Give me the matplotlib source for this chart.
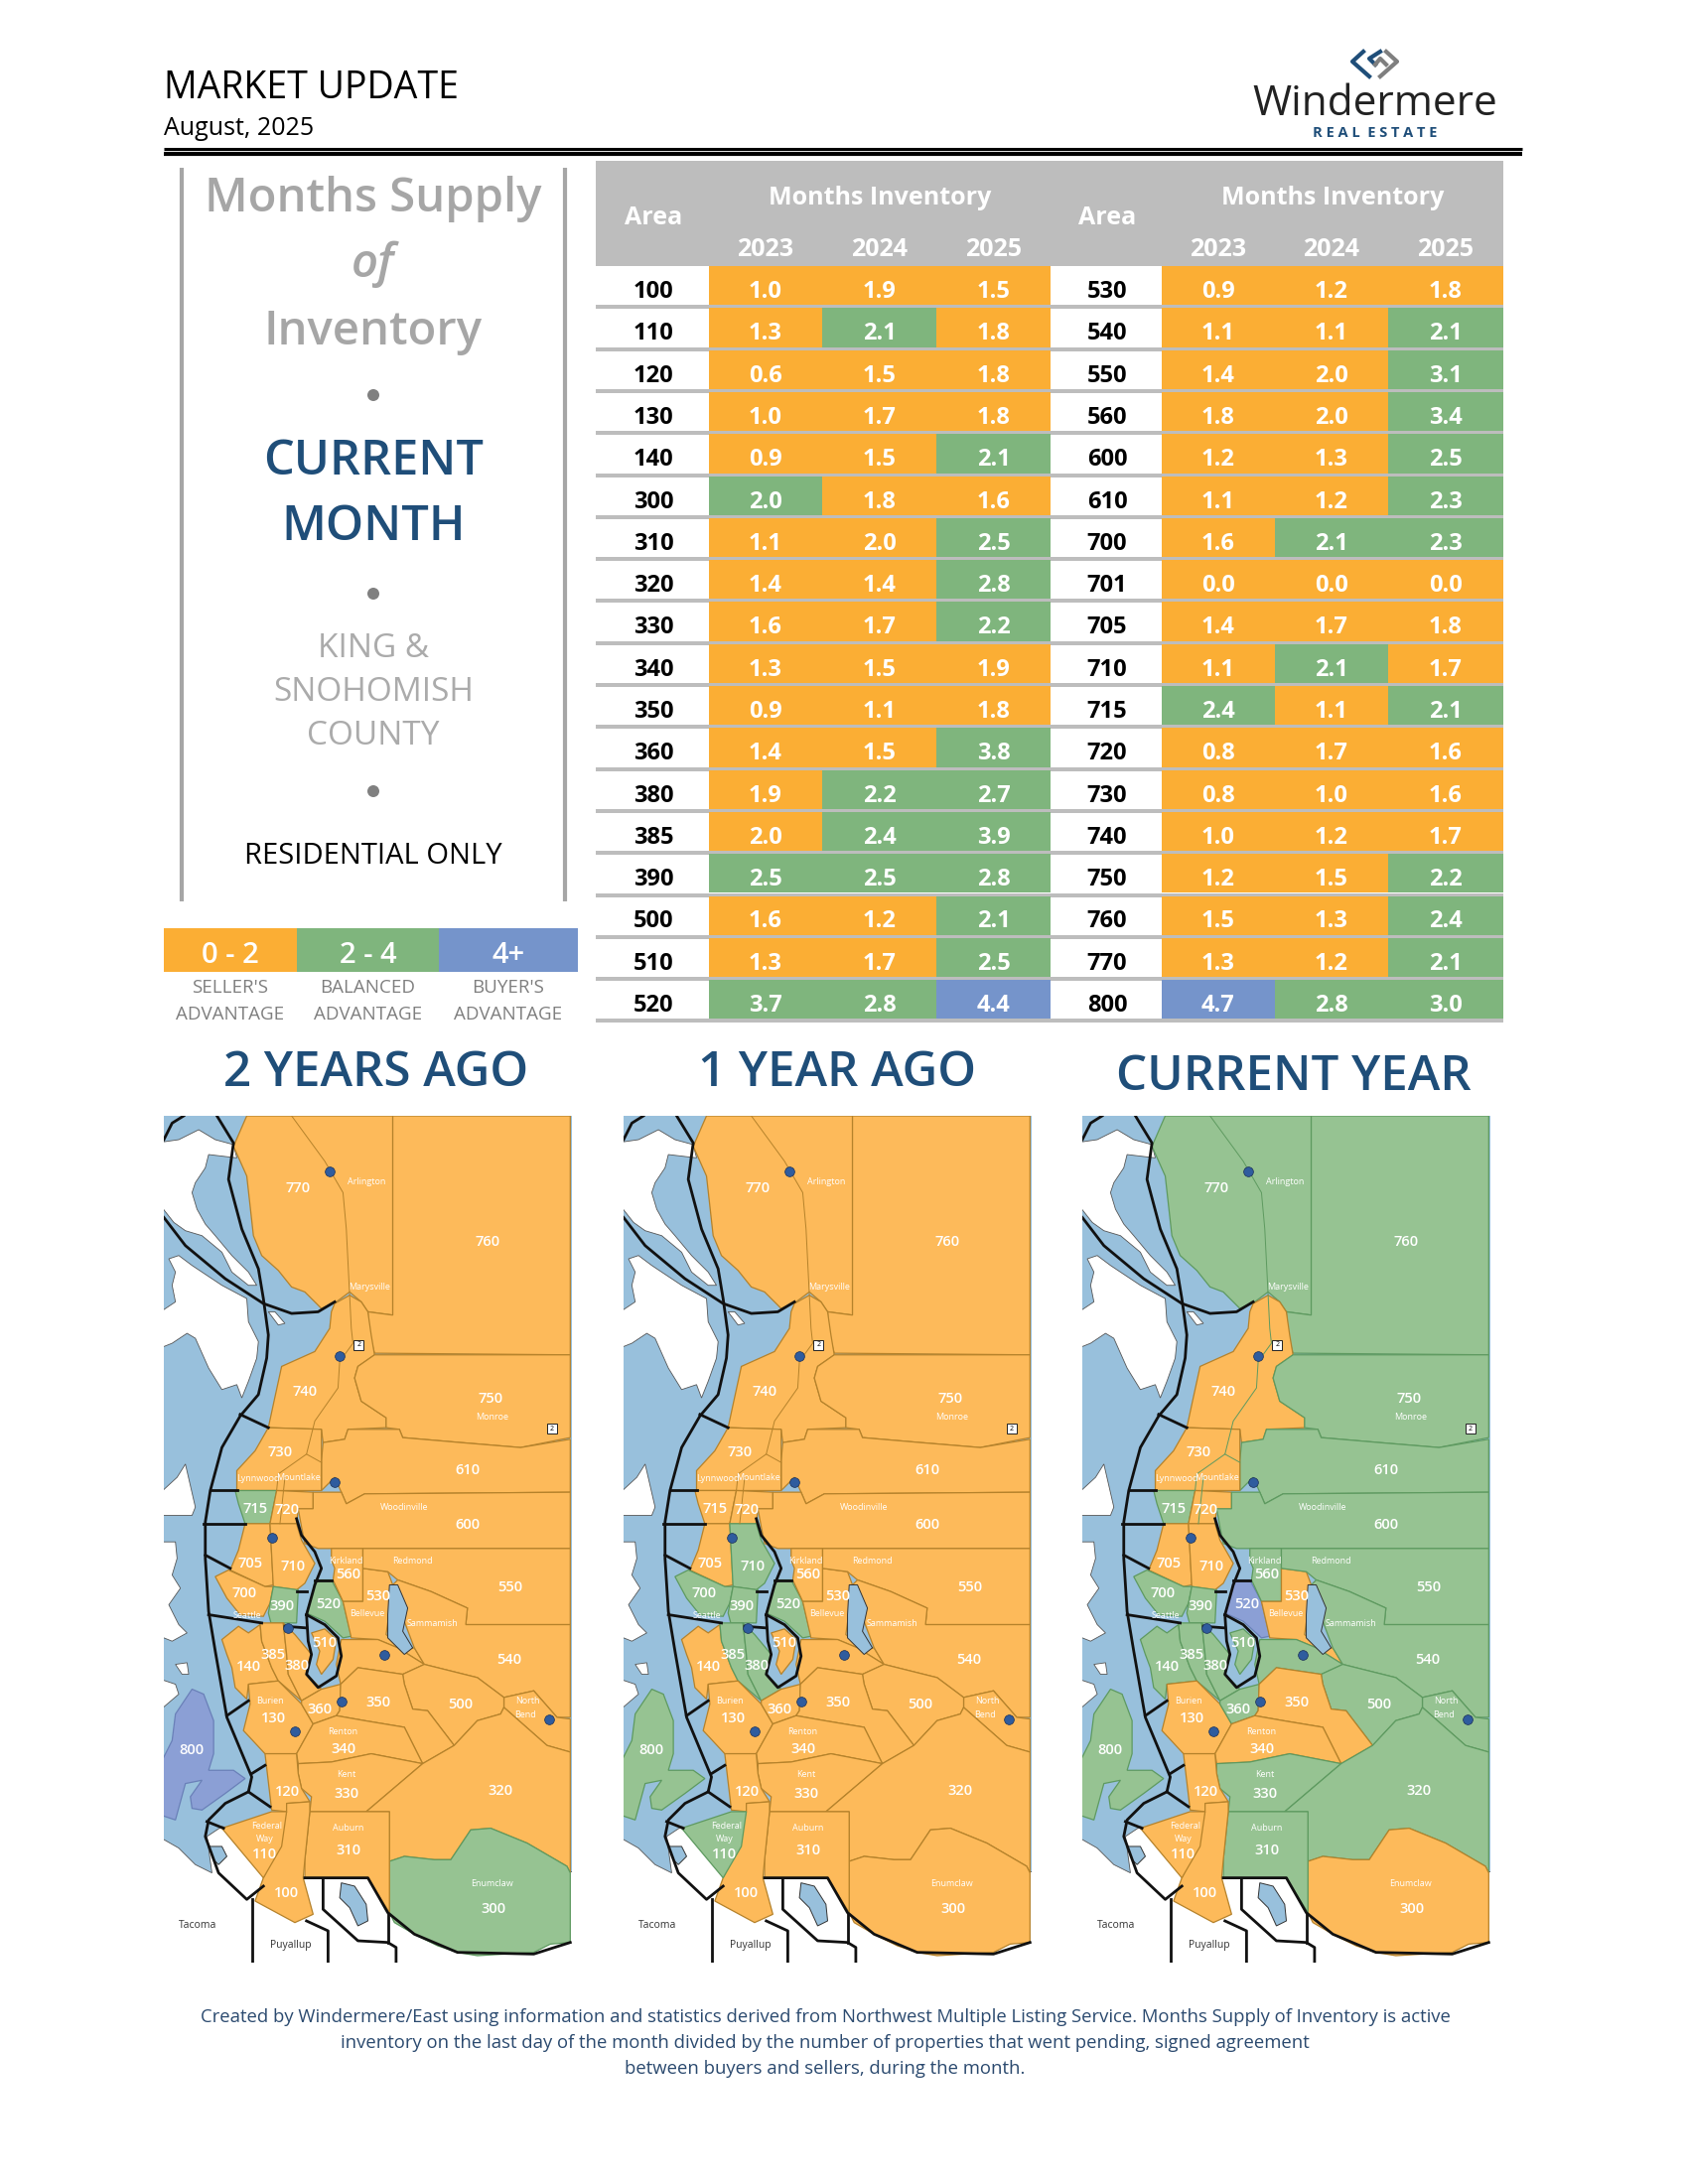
import matplotlib
matplotlib.use("Agg")
import matplotlib.pyplot as plt
from matplotlib.patches import Rectangle, Polygon, Circle

plt.rcParams['font.family'] = ['Open Sans', 'DejaVu Sans']

# table data
years = ['2023', '2024', '2025']
areas_left = [100, 110, 120, 130, 140, 300, 310, 320, 330, 340, 350, 360, 380, 385, 390, 500, 510, 520]
v2023_left = [1.0, 1.3, 0.6, 1.0, 0.9, 2.0, 1.1, 1.4, 1.6, 1.3, 0.9, 1.4, 1.9, 2.0, 2.5, 1.6, 1.3, 3.7]
v2024_left = [1.9, 2.1, 1.5, 1.7, 1.5, 1.8, 2.0, 1.4, 1.7, 1.5, 1.1, 1.5, 2.2, 2.4, 2.5, 1.2, 1.7, 2.8]
v2025_left = [1.5, 1.8, 1.8, 1.8, 2.1, 1.6, 2.5, 2.8, 2.2, 1.9, 1.8, 3.8, 2.7, 3.9, 2.8, 2.1, 2.5, 4.4]
areas_right = [530, 540, 550, 560, 600, 610, 700, 701, 705, 710, 715, 720, 730, 740, 750, 760, 770, 800]
v2023_right = [0.9, 1.1, 1.4, 1.8, 1.2, 1.1, 1.6, 0.0, 1.4, 1.1, 2.4, 0.8, 0.8, 1.0, 1.2, 1.5, 1.3, 4.7]
v2024_right = [1.2, 1.1, 2.0, 2.0, 1.3, 1.2, 2.1, 0.0, 1.7, 2.1, 1.1, 1.7, 1.0, 1.2, 1.5, 1.3, 1.2, 2.8]
v2025_right = [1.8, 2.1, 3.1, 3.4, 2.5, 2.3, 2.3, 0.0, 1.8, 1.7, 2.1, 1.6, 1.6, 1.7, 2.2, 2.4, 2.1, 3.0]
# 300 in 2023 prints as 2.0 but is shaded balanced
rounded_up = [(300, 0)]

legend_ranges = ['0 - 2', '2 - 4', '4+']
legend_names = ["SELLER'S", 'BALANCED', "BUYER'S"]
map_titles = ['2 YEARS AGO', '1 YEAR AGO', 'CURRENT YEAR']
footer_lines = [
    'Created by Windermere/East using information and statistics derived from Northwest Multiple Listing Service. Months Supply of Inventory is active',
    'inventory on the last day of the month divided by the number of properties that went pending, signed agreement',
    'between buyers and sellers, during the month.',
]

# map outlines (3x pixels)
regions = [
    (770, [(265,58),(705,58),(705,660),(630,650),(610,620),(575,590),(535,620),(490,640),(440,590),(400,575),(360,525),(310,480),(285,420),(265,240),(225,150)]),
    (760, [(705,58),(1240,58),(1240,780),(650,775),(635,720),(630,650),(705,660)]),
    (740, [(530,625),(575,600),(610,620),(630,650),(640,720),(650,780),(600,815),(590,850),(610,920),(685,970),(685,1000),(570,1005),(560,1035),(495,1045),(490,1005),(330,1000),(345,930),(370,815),(470,770),(515,700),(520,650)]),
    (750, [(650,780),(1240,780),(1240,1030),(1090,1060),(910,1045),(735,1030),(725,1005),(685,1000),(685,970),(610,920),(590,850),(600,815)]),
    (610, [(495,1045),(560,1035),(570,1005),(725,1005),(735,1030),(910,1045),(1090,1060),(1240,1035),(1240,1195),(620,1200),(565,1230),(550,1195),(530,1150),(490,1190),(490,1100)]),
    (730, [(330,1000),(490,1005),(490,1190),(235,1190),(235,1130),(290,1070)]),
    (715, [(230,1190),(355,1190),(335,1290),(260,1290),(240,1230)]),
    (720, [(355,1190),(465,1195),(465,1245),(420,1245),(415,1290),(335,1290)]),
    (600, [(465,1195),(550,1195),(565,1230),(620,1200),(1240,1195),(1240,1365),(480,1365),(440,1350),(430,1300),(420,1245),(465,1245)]),
    (705, [(260,1290),(335,1290),(345,1475),(320,1480),(215,1430),(240,1370)]),
    (710, [(335,1290),(415,1290),(430,1340),(470,1410),(440,1470),(415,1490),(345,1480)]),
    (700, [(170,1450),(210,1430),(320,1480),(345,1480),(335,1530),(315,1570),(245,1565),(205,1515)]),
    (390, [(345,1480),(420,1490),(415,1590),(338,1590),(330,1560)]),
    (140, [(190,1640),(240,1600),(270,1620),(305,1595),(310,1645),(340,1725),(360,1765),(270,1775),(265,1820),(230,1785),(220,1725),(205,1685)]),
    (385, [(305,1590),(375,1590),(385,1685),(390,1745),(430,1825),(360,1765),(340,1725),(310,1645)]),
    (380, [(375,1590),(410,1625),(460,1685),(445,1745),(490,1790),(430,1825),(390,1745),(385,1685)]),
    (130, [(270,1775),(360,1765),(430,1835),(465,1895),(415,1985),(320,1985),(255,1915),(275,1835)]),
    (360, [(430,1825),(490,1790),(548,1775),(545,1855),(535,1870),(465,1895),(430,1835)]),
    (510, [(460,1620),(500,1608),(535,1640),(525,1700),(490,1745),(475,1715),(485,1675)]),
    (520, [(470,1460),(520,1460),(555,1525),(580,1630),(555,1635),(500,1585),(445,1560),(465,1495)]),
    (560, [(520,1365),(615,1365),(615,1525),(555,1525),(525,1460),(530,1425),(520,1400)]),
    (530, [(615,1425),(690,1435),(705,1475),(685,1625),(735,1670),(770,1665),(800,1715),(720,1665),(660,1640),(580,1635),(555,1525),(615,1525)]),
    (550, [(615,1365),(1240,1365),(1240,1595),(925,1595),(930,1545),(820,1495),(720,1460),(690,1435),(615,1425)]),
    (540, [(720,1460),(820,1495),(930,1545),(925,1595),(1240,1595),(1240,1875),(1200,1875),(1130,1795),(1040,1815),(960,1755),(880,1735),(800,1715),(770,1665),(700,1480)]),
    (540, [(550,1640),(660,1640),(720,1665),(800,1715),(735,1745),(600,1725),(548,1775),(535,1715)]),
    (540, [(1040,1815),(1130,1795),(1200,1875),(1240,1880),(1240,1980),(1170,1960),(1040,1845)]),
    (500, [(800,1715),(880,1735),(960,1755),(1040,1815),(1040,1845),(1030,1865),(960,1885),(890,1960),(810,1855),(765,1850),(740,1775),(735,1745)]),
    (350, [(548,1775),(600,1725),(735,1745),(740,1775),(765,1850),(810,1855),(890,1960),(795,2015),(740,1905),(620,1885),(535,1870),(545,1855)]),
    (340, [(465,1895),(535,1870),(620,1885),(740,1905),(795,2015),(640,1985),(520,2010),(420,2015),(415,1985)]),
    (330, [(420,2015),(520,2010),(640,1985),(795,2015),(625,2160),(455,2160),(460,2115),(430,2090),(420,2045)]),
    (320, [(890,1960),(960,1885),(1030,1865),(1040,1845),(1170,1960),(1240,1980),(1240,2345),(1230,2325),(1110,2255),(1000,2210),(940,2215),(880,2305),(830,2305),(740,2295),(695,2310),(695,2160),(625,2160),(795,2015)]),
    (300, [(695,2310),(740,2295),(830,2305),(880,2305),(940,2215),(1000,2210),(1110,2255),(1230,2325),(1240,2345),(1240,2555),(1180,2560),(1130,2585),(960,2595),(900,2585),(840,2565),(770,2530),(710,2495),(695,2465)]),
    (310, [(455,2160),(695,2160),(695,2465),(630,2360),(440,2360),(440,2305)]),
    (120, [(320,1985),(415,1985),(420,2045),(430,2090),(455,2130),(385,2135),(385,2160),(340,2155)]),
    (100, [(385,2135),(455,2130),(455,2160),(440,2305),(435,2360),(465,2470),(410,2495),(290,2430),(315,2360),(345,2300),(385,2160)]),
    (110, [(190,2210),(340,2160),(385,2160),(370,2265),(315,2360)]),
    (800, [(50,1865),(100,1790),(135,1805),(165,1885),(165,1985),(150,2035),(225,2035),(260,2060),(200,2105),(130,2155),(100,2150),(95,2115),(130,2065),(80,2075),(50,2185),(-10,2165),(-10,2045),(40,1945)]),
]
land_shapes = [
    [(-10,140),(60,130),(120,100),(170,130),(225,145),(235,185),(150,175),(140,215),(110,260),(100,290),(115,340),(140,385),(170,420),(220,480),(270,530),(295,570),(270,570),(220,530),(190,470),(130,420),(80,405),(45,380),(-10,310)],
    [(-10,660),(50,620),(40,570),(50,530),(30,490),(60,480),(100,510),(190,570),(265,610),(270,680),(300,740),(295,790),(270,860),(250,910),(235,870),(190,885),(150,820),(110,730),(85,715),(40,745),(-10,765)],
    [(330,650),(350,650),(380,685),(360,690)],
    [(-10,1210),(55,1150),(80,1110),(110,1240),(100,1265),(-10,1265)],
    [(-10,1345),(50,1345),(55,1395),(40,1445),(65,1485),(30,1535),(60,1595),(85,1620),(40,1645),(-10,1625)],
    [(50,1715),(85,1710),(90,1745),(70,1745)],
    [(-10,1755),(50,1775),(60,1805),(-10,1865)],
    [(-10,2230),(60,2270),(110,2320),(160,2345),(145,2235),(190,2205),(700,2295),(1280,2345),(1280,2700),(-10,2700)],
]
water_shapes = [
    [(695,1475),(720,1475),(750,1545),(735,1615),(765,1665),(740,1685),(690,1635),(690,1565)],
    [(150,2265),(190,2265),(205,2295),(180,2320),(165,2305)],
    [(550,2375),(590,2385),(625,2440),(630,2490),(600,2505),(575,2450),(545,2420)],
]
black_lines = [
    [(15,130),(40,80),(75,58)],
    [(175,58),(225,140),(210,250),(250,400),(300,520),(315,610),(330,720),(325,790),(300,900),(245,965),(190,1060),(155,1190),(140,1285),(140,1395),(150,1555),(170,1675),(205,1875),(280,2055),(270,2100),(200,2135),(150,2185),(140,2235),(180,2345),(265,2425),(315,2385)],
    [(15,365),(80,450),(200,550),(315,625),(400,655),(480,650),(530,620)],
    [(245,960),(330,1000)], [(155,1190),(235,1190)], [(135,1290),(260,1290)],
    [(140,1385),(215,1425)], [(150,1565),(310,1590)], [(205,1870),(270,1825)],
    [(280,2045),(320,2020)], [(270,2100),(335,2145)], [(145,2190),(195,2210)],
    [(415,1275),(430,1325),(470,1375),(490,1425),(470,1475),(445,1565),(450,1645),(460,1685),(445,1745),(480,1785),(535,1750),(550,1690),(540,1635),(500,1595),(445,1565)],
    [(415,1495),(445,1495)], [(470,1460),(520,1460)], [(380,1600),(445,1605)],
    [(440,2360),(630,2360),(690,2465),(770,2530),(900,2585),(1130,2590),(1240,2555)],
    [(445,2490),(510,2520),(510,2616)], [(280,2425),(280,2616)],
    [(495,2365),(495,2455),(600,2550),(690,2555),(715,2570),(715,2616)], [(690,2470),(690,2555)],
]
road_lines = [
    [(400,58),(500,195),(555,290),(565,400),(580,700),(585,745),(545,800),(540,880),(470,980),(445,1080),(360,1140),(355,1190)],
    [(445,1080),(490,1105)],
    [(380,1150),(365,1290)],
]
interstates = [(515,225),(545,785),(530,1165),(340,1333),(390,1605),(410,1917),(550,1827),(680,1685),(1175,1880)]
us_shields = [(603,750),(1185,1003)]
area_labels = [(770,420,278),(760,990,438),(740,440,893),(750,1000,913),(730,365,1075),(610,930,1130),
    (715,292,1245),(720,385,1250),(600,930,1295),(705,275,1410),(710,405,1420),(560,570,1442),
    (550,1060,1483),(700,258,1500),(530,660,1510),(390,370,1540),(520,510,1533),(510,500,1650),
    (385,345,1687),(380,415,1720),(140,272,1723),(540,1055,1700),(350,660,1830),(500,910,1835),
    (360,485,1852),(130,345,1878),(340,555,1972),(800,98,1975),(330,565,2107),(120,388,2100),
    (320,1030,2097),(310,570,2278),(110,318,2290),(300,1008,2453),(100,385,2407)]
city_labels = [('Arlington',625,257),('Marysville',635,575),('Monroe',1005,968),('Lynnwood',300,1155),
    ('Mountlake',420,1152),('Woodinville',740,1240),('Kirkland',565,1402),('Redmond',765,1403),
    ('Seattle',265,1567),('Bellevue',628,1563),('Sammamish',825,1593),('Burien',335,1825),
    ('Renton',553,1920),('Kent',565,2048),('North',1110,1825),('Bend',1105,1867),
    ('Federal',325,2203),('Way',320,2243),('Auburn',570,2210),('Enumclaw',1005,2378)]
dark_labels = [('Tacoma',118,2503),('Puyallup',397,2565)]

GRAY = '#BDBDBD'
NAVY = '#1F4E79'
table_colors = ['#FBAE34', '#7FB57D', '#7594CB']
map_colors = ['#FDBA5A', '#96C392', '#8B9FD5']
map_edges = ['#B5822B', '#5E9A60', '#6A80B8']
WATER = '#98C0DC'


def supply_class(area, col, value):
    if value > 4:
        return 2
    if value > 2 or (area, col) in rounded_up:
        return 1
    return 0


fig = plt.figure(figsize=(17, 22), dpi=100)
ax = fig.add_axes([0, 0, 1, 1])
ax.set_xlim(0, 1700)
ax.set_ylim(2200, 0)
ax.axis('off')

# header
ax.text(165, 89, 'MARKET UPDATE', fontsize=27, color='black', ha='left', va='center')
ax.text(165, 129, 'August, 2025', fontsize=18, color='black', ha='left', va='center')
ax.plot([165, 1533], [149.5, 149.5], color='black', lw=2.2, solid_capstyle='butt')
ax.plot([165, 1533], [155, 155], color='black', lw=3, solid_capstyle='butt')
ax.plot([1373, 1362, 1379], [52, 62, 77], color=NAVY, lw=3)
ax.plot([1385, 1379, 1390], [65, 59, 52], color=NAVY, lw=3)
ax.plot([1396, 1407, 1390], [52, 62, 77], color='#7F7F7F', lw=3)
ax.plot([1385, 1390, 1396], [65, 59, 65], color='#7F7F7F', lw=3)
ax.text(1385, 105, 'Windermere', fontsize=30.5, color='#222222', ha='center', va='center')
ax.text(1385, 134, 'R E A L  E S T A T E', fontsize=10.5, color=NAVY, ha='center', va='center', weight='bold')

# left panel
ax.plot([183, 183], [169, 908], color='#A6A6A6', lw=3, solid_capstyle='butt')
ax.plot([569, 569], [169, 908], color='#A6A6A6', lw=3, solid_capstyle='butt')
ax.text(376, 201, 'Months Supply', fontsize=34, color='#A6A6A6', ha='center', va='center', weight='semibold')
ax.text(376, 266, 'of', fontsize=34, color='#A6A6A6', ha='center', va='center', style='italic', weight='semibold')
ax.text(376, 334, 'Inventory', fontsize=34, color='#A6A6A6', ha='center', va='center', weight='semibold')
ax.text(376, 466, 'CURRENT', fontsize=35, color=NAVY, ha='center', va='center', weight='semibold')
ax.text(376, 532, 'MONTH', fontsize=35, color=NAVY, ha='center', va='center', weight='semibold')
ax.text(376, 654, 'KING &', fontsize=24, color='#ABABAB', ha='center', va='center')
ax.text(376, 697, 'SNOHOMISH', fontsize=24, color='#ABABAB', ha='center', va='center')
ax.text(376, 741, 'COUNTY', fontsize=24, color='#ABABAB', ha='center', va='center')
ax.text(376, 863, 'RESIDENTIAL ONLY', fontsize=21, color='black', ha='center', va='center')
for y in [398, 598, 797]:
    ax.add_patch(Circle((376, y), 6, color='#808080', lw=0))

# legend
legend_edges = [165, 299, 442, 582]
for i in range(3):
    ax.add_patch(Rectangle((legend_edges[i], 935), legend_edges[i + 1] - legend_edges[i], 44, color=table_colors[i], lw=0))
    cx = (legend_edges[i] + legend_edges[i + 1]) / 2
    ax.text(cx, 962, legend_ranges[i], fontsize=21, color='white', ha='center', va='center', weight='semibold')
    ax.text(cx, 995, legend_names[i], fontsize=13.5, color='#7F7F7F', ha='center', va='center')
    ax.text(cx, 1022, 'ADVANTAGE', fontsize=13.5, color='#7F7F7F', ha='center', va='center')

# table
top = 268
row_h = 42.3
edges_left = [600, 714, 828, 943, 1058]
edges_right = [1058, 1170, 1284, 1398, 1514]
ax.add_patch(Rectangle((600, 162), 1514 - 600, top - 162, color=GRAY, lw=0))
for edges, areas, vals in [(edges_left, areas_left, [v2023_left, v2024_left, v2025_left]),
                           (edges_right, areas_right, [v2023_right, v2024_right, v2025_right])]:
    ax.text((edges[0] + edges[1]) / 2 + 1, 219, 'Area', fontsize=18, color='white', ha='center', va='center', weight='bold')
    ax.text((edges[1] + edges[4]) / 2, 200, 'Months Inventory', fontsize=18, color='white', ha='center', va='center', weight='bold')
    for c, yr in enumerate(years):
        ax.text((edges[c + 1] + edges[c + 2]) / 2, 251, yr, fontsize=18, color='white', ha='center', va='center', weight='bold')
    for i, area in enumerate(areas):
        y0 = top + i * row_h
        ax.text((edges[0] + edges[1]) / 2 + 1, y0 + 26, str(area), fontsize=17, color='black', ha='center', va='center', weight='bold')
        for c in range(3):
            k = supply_class(area, c, vals[c][i])
            ax.add_patch(Rectangle((edges[c + 1], y0), edges[c + 2] - edges[c + 1], row_h - 3, color=table_colors[k], lw=0))
            ax.text((edges[c + 1] + edges[c + 2]) / 2, y0 + 26, '%.1f' % vals[c][i], fontsize=17, color='white', ha='center', va='center', weight='bold')
        ax.add_patch(Rectangle((edges[0], y0 + row_h - 3), edges[4] - edges[0], 4, color=GRAY, lw=0))

# map titles
title_x = [379, 843, 1303]
title_y = [1082, 1082, 1085]
for x, y, t in zip(title_x, title_y, map_titles):
    ax.text(x, y, t, fontsize=35.5, color=NAVY, ha='center', va='center', weight='semibold')

# the three maps use the table values for their colours
lookup = {}
for a, x, y, z in zip(areas_left, v2023_left, v2024_left, v2025_left):
    lookup[a] = (x, y, z)
for a, x, y, z in zip(areas_right, v2023_right, v2024_right, v2025_right):
    lookup[a] = (x, y, z)

map_left = [165, 628, 1090]
for col in range(3):
    m = fig.add_axes([map_left[col] / 1700, 1 - 1977 / 2200, 411 / 1700, (1977 - 1124) / 2200])
    m.set_xlim(15, 1245)
    m.set_ylim(2616, 58)
    m.axis('off')
    m.add_patch(Rectangle((15, 58), 1230, 2558, color=WATER, lw=0, zorder=0))
    for pts in land_shapes:
        m.add_patch(Polygon(pts, closed=True, fc='white', ec='#555555', lw=0.6, zorder=1))
    for area, pts in regions:
        k = supply_class(area, col, lookup[area][col])
        m.add_patch(Polygon(pts, closed=True, fc=map_colors[k], ec=map_edges[k], lw=0.9, zorder=2))
    for pts in water_shapes:
        m.add_patch(Polygon(pts, closed=True, fc=WATER, ec='#333333', lw=0.7, zorder=3))
    for pts in road_lines:
        m.plot([p[0] for p in pts], [p[1] for p in pts], color=map_edges[supply_class(770, col, lookup[770][col])], lw=0.7, zorder=3)
    for pts in black_lines:
        m.plot([p[0] for p in pts], [p[1] for p in pts], color='#111111', lw=2, zorder=4)
    for x, y in interstates:
        m.plot(x, y, 'o', ms=7, mfc='#2F5C9E', mec='#1A2E55', mew=0.5, zorder=5)
    for x, y in us_shields:
        m.plot(x, y, 's', ms=7, mfc='white', mec='#222222', mew=0.7, zorder=5)
        m.text(x, y, '2', fontsize=5, color='black', ha='center', va='center', zorder=6)
    for a, x, y in area_labels:
        m.text(x, y, str(a), fontsize=10.5, color='white', ha='center', va='center', weight='semibold', zorder=6)
    for t, x, y in city_labels:
        m.text(x, y, t, fontsize=6.5, color='white', ha='center', va='center', zorder=6)
    for t, x, y in dark_labels:
        m.text(x, y, t, fontsize=7.5, color='#333333', ha='center', va='center', zorder=6)

# footer
footer_y = [2032, 2058, 2084]
for y, line in zip(footer_y, footer_lines):
    ax.text(831, y, line, fontsize=13.35, color='#2B4A6F', ha='center', va='center')

fig.savefig('out.png', dpi=100)
